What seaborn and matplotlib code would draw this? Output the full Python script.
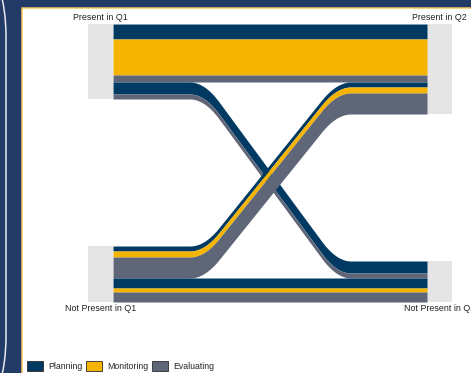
import numpy as np
import pandas as pd
import seaborn as sns
import matplotlib.pyplot as plt
from matplotlib.patches import Rectangle, FancyBboxPatch, Patch
from matplotlib.transforms import IdentityTransform

# Valeurs (un flux = une ligne)
q1_state = ['Present', 'Present', 'Present', 'Present', 'Present',
            'Not Present', 'Not Present', 'Not Present',
            'Not Present', 'Not Present', 'Not Present']
q2_state = ['Present', 'Present', 'Present', 'Not Present', 'Not Present',
            'Present', 'Present', 'Present',
            'Not Present', 'Not Present', 'Not Present']
activity = ['Planning', 'Monitoring', 'Evaluating', 'Planning', 'Evaluating',
            'Planning', 'Monitoring', 'Evaluating',
            'Planning', 'Monitoring', 'Evaluating']
counts = [15, 36, 7, 12, 5, 5, 6, 21, 10, 4, 10]

state_order = ['Present', 'Not Present']
activity_order = ['Planning', 'Monitoring', 'Evaluating']
activity_colors = ['#003A63', '#F5B400', '#5E6677']

sns.set_theme(style='white')
plt.rcParams['font.family'] = ['Liberation Sans', 'DejaVu Sans']

df = pd.DataFrame({'q1': q1_state, 'q2': q2_state, 'act': activity, 'n': counts})
rank_state = {s: i for i, s in enumerate(state_order)}
rank_act = {a: i for i, a in enumerate(activity_order)}
df['r1'] = df['q1'].map(rank_state)
df['r2'] = df['q2'].map(rank_state)
df['ra'] = df['act'].map(rank_act)
color_map = dict(zip(activity_order, activity_colors))

gap = 147
total = df['n'].sum() + gap


def stack(data, first_rank, second_rank):
    # empile les flux de haut en bas pour un axe
    d = data.sort_values([first_rank, second_rank, 'ra'])
    tops = {}
    y = total
    prev = None
    for idx, row in d.iterrows():
        if prev is not None and row[first_rank] != prev:
            y -= gap
        tops[idx] = y
        y -= row['n']
        prev = row[first_rank]
    return pd.Series(tops)


df['top1'] = stack(df, 'r1', 'r2')
df['top2'] = stack(df, 'r2', 'r1')

fig = plt.figure(figsize=(4.71, 3.73), dpi=100)

# cadre de la diapositive
fig.patches.append(Rectangle((0, 0), 1, 1, transform=fig.transFigure,
                             color='#213A66', zorder=-10))
fig.patches.append(FancyBboxPatch((-300, -74), 306, 521,
                                  boxstyle='round,pad=0,rounding_size=110',
                                  transform=IdentityTransform(), fc='none',
                                  ec='#E8E8EE', lw=1.1, zorder=-9))
fig.patches.append(Rectangle((22, -10), 470, 375.5, transform=IdentityTransform(),
                             fc='white', ec='#F2C75C', lw=1.1, zorder=-8))

ax = fig.add_axes([0, 0, 1, 1])
ax.set_facecolor('none')
ax.axis('off')
ax.set_xlim(1 - 100.5 / 339, 2 + 31.5 / 339)
ax.set_ylim(-71, 302)

box_w = 25 / 339
x0 = 1 + box_w / 2
x1 = 2 - box_w / 2

# strates
for axis_x, col, top_col in [(1, 'q1', 'top1'), (2, 'q2', 'top2')]:
    for s in state_order:
        sub = df[df[col] == s]
        top = sub[top_col].max()
        h = sub['n'].sum()
        ax.add_patch(Rectangle((axis_x - box_w / 2, top - h), box_w, h,
                               fc='#E5E5E5', ec='none', zorder=1))
        q = 'Q1' if axis_x == 1 else 'Q2'
        if s == 'Present':
            ax.text(axis_x, top + 1.5, f'{s} in {q}', ha='center', va='bottom',
                    fontsize=6.4, color='#222222')
        else:
            ax.text(axis_x, top - h - 2, f'{s} in {q}', ha='center', va='top',
                    fontsize=6.4, color='#222222')

# forme des flux: plat, diagonale, plat, coins arrondis
t = np.linspace(0, 1, 600)
knot = 0.29
lin = np.clip((t - knot) / (1 - 2 * knot), 0, 1)
k = 56
shape = np.convolve(np.pad(lin, k // 2, mode='edge'), np.ones(k) / k, mode='valid')[:len(t)]
xs = x0 + (x1 - x0) * t

for _, row in df.iterrows():
    top = row['top1'] + (row['top2'] - row['top1']) * shape
    ax.fill_between(xs, top - row['n'], top, color=color_map[row['act']],
                    lw=0, zorder=2)

handles = [Patch(fc=c, ec='#2B2B2B', lw=0.6) for c in activity_colors]
fig.legend(handles, activity_order, loc='lower left',
           bbox_to_anchor=(27 / 471, 2 / 373), ncol=3, frameon=False,
           fontsize=6.3, handlelength=1.85, handleheight=1.4,
           handletextpad=0.55, columnspacing=0.45, borderpad=0,
           borderaxespad=0)

fig.savefig('out.png', dpi=100)
